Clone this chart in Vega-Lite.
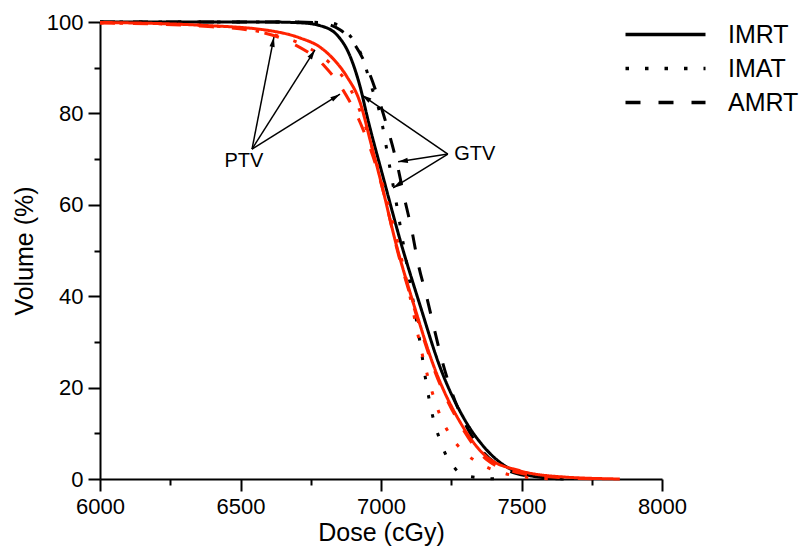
{
  "$schema": "https://vega.github.io/schema/vega-lite/v6.json",
  "width": 562,
  "height": 457,
  "autosize": {"type": "none"},
  "padding": {"left": 100, "top": 22, "right": 138, "bottom": 79},
  "background": "white",
  "config": {"view": {"stroke": null}, "font": "Liberation Sans"},
  "datasets": {
    "curves": [
      {"structure": "GTV", "method": "IMRT", "dose": 6000, "volume": 100},
      {"structure": "GTV", "method": "IMRT", "dose": 6600, "volume": 100},
      {"structure": "GTV", "method": "IMRT", "dose": 6720, "volume": 99.8},
      {"structure": "GTV", "method": "IMRT", "dose": 6783, "volume": 99.2},
      {"structure": "GTV", "method": "IMRT", "dose": 6843, "volume": 97.2},
      {"structure": "GTV", "method": "IMRT", "dose": 6890, "volume": 92.5},
      {"structure": "GTV", "method": "IMRT", "dose": 6925, "volume": 86},
      {"structure": "GTV", "method": "IMRT", "dose": 6954, "volume": 78.5},
      {"structure": "GTV", "method": "IMRT", "dose": 7010, "volume": 65.5},
      {"structure": "GTV", "method": "IMRT", "dose": 7068, "volume": 52.3},
      {"structure": "GTV", "method": "IMRT", "dose": 7139, "volume": 38},
      {"structure": "GTV", "method": "IMRT", "dose": 7210, "volume": 24.5},
      {"structure": "GTV", "method": "IMRT", "dose": 7292, "volume": 13.6},
      {"structure": "GTV", "method": "IMRT", "dose": 7377, "volume": 6.3},
      {"structure": "GTV", "method": "IMRT", "dose": 7484, "volume": 1.5},
      {"structure": "GTV", "method": "IMRT", "dose": 7580, "volume": 0.3},
      {"structure": "GTV", "method": "IMRT", "dose": 7650, "volume": 0},

      {"structure": "GTV", "method": "IMAT", "dose": 6000, "volume": 100},
      {"structure": "GTV", "method": "IMAT", "dose": 6700, "volume": 100},
      {"structure": "GTV", "method": "IMAT", "dose": 6818, "volume": 99.8},
      {"structure": "GTV", "method": "IMAT", "dose": 6883, "volume": 97.5},
      {"structure": "GTV", "method": "IMAT", "dose": 6932, "volume": 92.5},
      {"structure": "GTV", "method": "IMAT", "dose": 6968, "volume": 85.5},
      {"structure": "GTV", "method": "IMAT", "dose": 6996, "volume": 80},
      {"structure": "GTV", "method": "IMAT", "dose": 7032, "volume": 68},
      {"structure": "GTV", "method": "IMAT", "dose": 7057, "volume": 59.5},
      {"structure": "GTV", "method": "IMAT", "dose": 7075, "volume": 53},
      {"structure": "GTV", "method": "IMAT", "dose": 7096, "volume": 45.5},
      {"structure": "GTV", "method": "IMAT", "dose": 7110, "volume": 40.5},
      {"structure": "GTV", "method": "IMAT", "dose": 7128, "volume": 34},
      {"structure": "GTV", "method": "IMAT", "dose": 7146, "volume": 27},
      {"structure": "GTV", "method": "IMAT", "dose": 7157, "volume": 22.5},
      {"structure": "GTV", "method": "IMAT", "dose": 7185, "volume": 13.5},
      {"structure": "GTV", "method": "IMAT", "dose": 7210, "volume": 8.5},
      {"structure": "GTV", "method": "IMAT", "dose": 7235, "volume": 4.8},
      {"structure": "GTV", "method": "IMAT", "dose": 7265, "volume": 2.2},
      {"structure": "GTV", "method": "IMAT", "dose": 7292, "volume": 0.9},
      {"structure": "GTV", "method": "IMAT", "dose": 7363, "volume": 0.2},
      {"structure": "GTV", "method": "IMAT", "dose": 7423, "volume": 0},

      {"structure": "GTV", "method": "AMRT", "dose": 6000, "volume": 100},
      {"structure": "GTV", "method": "AMRT", "dose": 6700, "volume": 100},
      {"structure": "GTV", "method": "AMRT", "dose": 6783, "volume": 99.8},
      {"structure": "GTV", "method": "AMRT", "dose": 6854, "volume": 98.3},
      {"structure": "GTV", "method": "AMRT", "dose": 6907, "volume": 95},
      {"structure": "GTV", "method": "AMRT", "dose": 6954, "volume": 89.5},
      {"structure": "GTV", "method": "AMRT", "dose": 6989, "volume": 83.6},
      {"structure": "GTV", "method": "AMRT", "dose": 7025, "volume": 76.4},
      {"structure": "GTV", "method": "AMRT", "dose": 7057, "volume": 69},
      {"structure": "GTV", "method": "AMRT", "dose": 7085, "volume": 61},
      {"structure": "GTV", "method": "AMRT", "dose": 7110, "volume": 54.3},
      {"structure": "GTV", "method": "AMRT", "dose": 7132, "volume": 47.2},
      {"structure": "GTV", "method": "AMRT", "dose": 7164, "volume": 39.5},
      {"structure": "GTV", "method": "AMRT", "dose": 7185, "volume": 34},
      {"structure": "GTV", "method": "AMRT", "dose": 7217, "volume": 26},
      {"structure": "GTV", "method": "AMRT", "dose": 7253, "volume": 18.8},
      {"structure": "GTV", "method": "AMRT", "dose": 7292, "volume": 13},
      {"structure": "GTV", "method": "AMRT", "dose": 7352, "volume": 6.8},
      {"structure": "GTV", "method": "AMRT", "dose": 7423, "volume": 2.8},
      {"structure": "GTV", "method": "AMRT", "dose": 7495, "volume": 1},
      {"structure": "GTV", "method": "AMRT", "dose": 7601, "volume": 0.2},
      {"structure": "GTV", "method": "AMRT", "dose": 7673, "volume": 0},

      {"structure": "PTV", "method": "IMRT", "dose": 6000, "volume": 99.9},
      {"structure": "PTV", "method": "IMRT", "dose": 6356, "volume": 99.3},
      {"structure": "PTV", "method": "IMRT", "dose": 6594, "volume": 98.2},
      {"structure": "PTV", "method": "IMRT", "dose": 6712, "volume": 96.5},
      {"structure": "PTV", "method": "IMRT", "dose": 6783, "volume": 94.5},
      {"structure": "PTV", "method": "IMRT", "dose": 6829, "volume": 92},
      {"structure": "PTV", "method": "IMRT", "dose": 6879, "volume": 88},
      {"structure": "PTV", "method": "IMRT", "dose": 6925, "volume": 82.5},
      {"structure": "PTV", "method": "IMRT", "dose": 6964, "volume": 73.5},
      {"structure": "PTV", "method": "IMRT", "dose": 7004, "volume": 64},
      {"structure": "PTV", "method": "IMRT", "dose": 7050, "volume": 52.3},
      {"structure": "PTV", "method": "IMRT", "dose": 7120, "volume": 37.5},
      {"structure": "PTV", "method": "IMRT", "dose": 7192, "volume": 24},
      {"structure": "PTV", "method": "IMRT", "dose": 7281, "volume": 12.5},
      {"structure": "PTV", "method": "IMRT", "dose": 7377, "volume": 4.8},
      {"structure": "PTV", "method": "IMRT", "dose": 7495, "volume": 1.8},
      {"structure": "PTV", "method": "IMRT", "dose": 7637, "volume": 0.5},
      {"structure": "PTV", "method": "IMRT", "dose": 7850, "volume": 0},

      {"structure": "PTV", "method": "IMAT", "dose": 6000, "volume": 99.8},
      {"structure": "PTV", "method": "IMAT", "dose": 6356, "volume": 99.3},
      {"structure": "PTV", "method": "IMAT", "dose": 6605, "volume": 97.4},
      {"structure": "PTV", "method": "IMAT", "dose": 6712, "volume": 95.3},
      {"structure": "PTV", "method": "IMAT", "dose": 6818, "volume": 91},
      {"structure": "PTV", "method": "IMAT", "dose": 6890, "volume": 85.5},
      {"structure": "PTV", "method": "IMAT", "dose": 6940, "volume": 78},
      {"structure": "PTV", "method": "IMAT", "dose": 6985, "volume": 69},
      {"structure": "PTV", "method": "IMAT", "dose": 7030, "volume": 59},
      {"structure": "PTV", "method": "IMAT", "dose": 7070, "volume": 49},
      {"structure": "PTV", "method": "IMAT", "dose": 7103, "volume": 40},
      {"structure": "PTV", "method": "IMAT", "dose": 7146, "volume": 27.5},
      {"structure": "PTV", "method": "IMAT", "dose": 7167, "volume": 22.3},
      {"structure": "PTV", "method": "IMAT", "dose": 7210, "volume": 14},
      {"structure": "PTV", "method": "IMAT", "dose": 7246, "volume": 9.6},
      {"structure": "PTV", "method": "IMAT", "dose": 7299, "volume": 5.7},
      {"structure": "PTV", "method": "IMAT", "dose": 7363, "volume": 3},
      {"structure": "PTV", "method": "IMAT", "dose": 7434, "volume": 1.3},
      {"structure": "PTV", "method": "IMAT", "dose": 7530, "volume": 0.3},
      {"structure": "PTV", "method": "IMAT", "dose": 7637, "volume": 0},

      {"structure": "PTV", "method": "AMRT", "dose": 6000, "volume": 99.8},
      {"structure": "PTV", "method": "AMRT", "dose": 6356, "volume": 99.1},
      {"structure": "PTV", "method": "AMRT", "dose": 6534, "volume": 98.2},
      {"structure": "PTV", "method": "AMRT", "dose": 6676, "volume": 95.6},
      {"structure": "PTV", "method": "AMRT", "dose": 6801, "volume": 90.2},
      {"structure": "PTV", "method": "AMRT", "dose": 6865, "volume": 85.1},
      {"structure": "PTV", "method": "AMRT", "dose": 6936, "volume": 76.5},
      {"structure": "PTV", "method": "AMRT", "dose": 6972, "volume": 70.5},
      {"structure": "PTV", "method": "AMRT", "dose": 7014, "volume": 61.5},
      {"structure": "PTV", "method": "AMRT", "dose": 7050, "volume": 52},
      {"structure": "PTV", "method": "AMRT", "dose": 7120, "volume": 37},
      {"structure": "PTV", "method": "AMRT", "dose": 7192, "volume": 23.5},
      {"structure": "PTV", "method": "AMRT", "dose": 7281, "volume": 12},
      {"structure": "PTV", "method": "AMRT", "dose": 7377, "volume": 4.2},
      {"structure": "PTV", "method": "AMRT", "dose": 7495, "volume": 1.3},
      {"structure": "PTV", "method": "AMRT", "dose": 7637, "volume": 0.3},
      {"structure": "PTV", "method": "AMRT", "dose": 7780, "volume": 0}
    ],
    "arrows": [
      {"target": "PTV", "dose0": 6541, "vol0": 72.2, "dose1": 6619, "vol1": 96.7},
      {"target": "PTV", "dose0": 6541, "vol0": 72.2, "dose1": 6765, "vol1": 93.9},
      {"target": "PTV", "dose0": 6541, "vol0": 72.2, "dose1": 6854, "vol1": 84.2},
      {"target": "GTV", "dose0": 7238, "vol0": 71.1, "dose1": 6932, "vol1": 84.0},
      {"target": "GTV", "dose0": 7238, "vol0": 71.1, "dose1": 7061, "vol1": 69.4},
      {"target": "GTV", "dose0": 7238, "vol0": 71.1, "dose1": 7043, "vol1": 63.7}
    ],
    "labels": [
      {"text": "PTV", "dose": 6512, "volume": 69.5},
      {"text": "GTV", "dose": 7334, "volume": 71.2}
    ]
  },
  "layer": [
    {
      "data": {"name": "curves"},
      "mark": {"type": "line", "strokeWidth": 3, "interpolate": "monotone"},
      "encoding": {
        "x": {
          "field": "dose", "type": "quantitative",
          "scale": {"domain": [6000, 8000], "nice": false, "zero": false},
          "axis": {
            "title": "Dose (cGy)",
            "values": [6000, 6250, 6500, 6750, 7000, 7250, 7500, 7750, 8000],
            "format": "d",
            "labelExpr": "datum.value % 500 === 0 ? datum.label : ''",
            "tickSize": {"condition": {"test": "datum.value % 500 === 0", "value": 12}, "value": 6},
            "tickWidth": 2, "tickColor": "black",
            "domainWidth": 2, "domainColor": "black",
            "grid": false,
            "labelFontSize": 22, "labelColor": "black", "labelPadding": 5,
            "labelFlush": false, "labelOverlap": false,
            "titleFontSize": 25, "titleFontWeight": "normal", "titleColor": "black", "titlePadding": 3
          }
        },
        "y": {
          "field": "volume", "type": "quantitative",
          "scale": {"domain": [0, 100], "nice": false},
          "axis": {
            "title": "Volume (%)",
            "values": [0, 10, 20, 30, 40, 50, 60, 70, 80, 90, 100],
            "labelExpr": "datum.value % 20 === 0 ? datum.label : ''",
            "tickSize": {"condition": {"test": "datum.value % 20 === 0", "value": 12}, "value": 6},
            "tickWidth": 2, "tickColor": "black",
            "domainWidth": 2, "domainColor": "black",
            "grid": false,
            "labelFontSize": 22, "labelColor": "black", "labelPadding": 5,
            "labelFlush": false, "labelOverlap": false,
            "titleFontSize": 25, "titleFontWeight": "normal", "titleColor": "black", "titlePadding": 9
          }
        },
        "color": {
          "field": "structure", "type": "nominal",
          "scale": {"domain": ["GTV", "PTV"], "range": ["#000000", "#ff2200"]},
          "legend": null
        },
        "strokeDash": {
          "field": "method", "type": "nominal",
          "scale": {"domain": ["IMRT", "IMAT", "AMRT"], "range": [[1, 0], [3.5, 16], [15, 18]]},
          "legend": {
            "title": null,
            "orient": "none",
            "legendX": 553,
            "legendY": 0,
            "padding": 0,
            "symbolType": "M-4,0H4",
            "symbolSize": 400,
            "symbolStrokeWidth": 3.5,
            "symbolStrokeColor": "black",
            "symbolFillColor": "transparent",
            "labelFontSize": 25,
            "labelColor": "black",
            "labelOffset": 50,
            "rowPadding": 8
          }
        }
      }
    },
    {
      "data": {"name": "arrows"},
      "mark": {"type": "rule", "color": "black", "strokeWidth": 1.5},
      "encoding": {
        "x": {"field": "dose0", "type": "quantitative"},
        "y": {"field": "vol0", "type": "quantitative"},
        "x2": {"field": "dose1"},
        "y2": {"field": "vol1"}
      }
    },
    {
      "data": {"name": "arrows"},
      "transform": [
        {"calculate": "atan2((datum.dose1 - datum.dose0) * 562 / 2000, (datum.vol1 - datum.vol0) * 457 / 100) * 180 / PI", "as": "ang"}
      ],
      "mark": {"type": "point", "shape": "M0,0L-0.35,1.3L0.35,1.3Z", "filled": true, "color": "black", "size": 225, "opacity": 1, "strokeWidth": 0},
      "encoding": {
        "x": {"field": "dose1", "type": "quantitative"},
        "y": {"field": "vol1", "type": "quantitative"},
        "angle": {"field": "ang", "type": "quantitative", "scale": null}
      }
    },
    {
      "data": {"name": "labels"},
      "mark": {"type": "text", "fontSize": 20, "color": "black", "align": "center", "baseline": "middle"},
      "encoding": {
        "x": {"field": "dose", "type": "quantitative"},
        "y": {"field": "volume", "type": "quantitative"},
        "text": {"field": "text"}
      }
    }
  ]
}
